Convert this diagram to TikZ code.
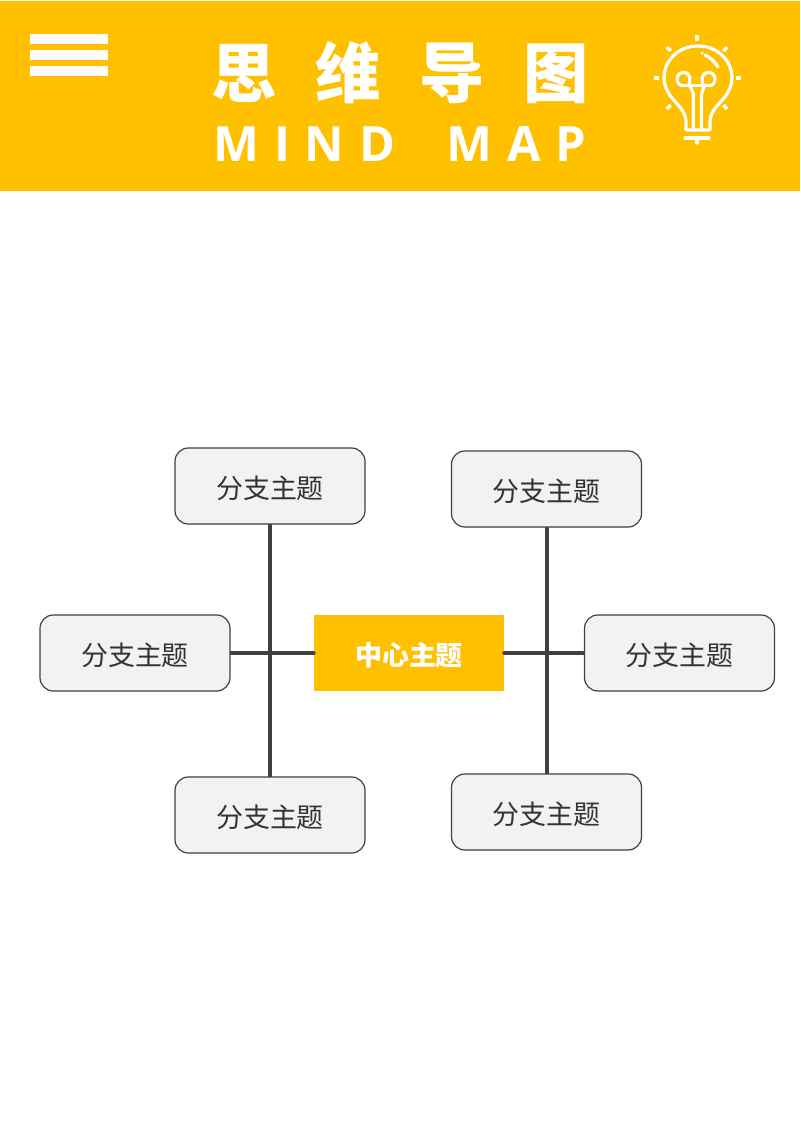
\documentclass[tikz,border=0pt]{standalone}
\usepackage{fontspec}
\newfontfamily\cjk{Noto Sans CJK SC}
\newfontfamily\latinb[LetterSpace=30,WordSpace=1.9]{Open Sans Bold}
\definecolor{amber}{HTML}{FFC000}
\definecolor{ink}{HTML}{404040}
\definecolor{boxfill}{HTML}{F2F2F2}
\pgfdeclarelayer{under}
\pgfdeclarelayer{mid}
\pgfsetlayers{under,mid,main}
\tikzset{
  branch/.style={draw=ink,line width=0.9pt,fill=boxfill,rounded corners=10pt,minimum width=142.5pt,minimum height=57pt,inner sep=0pt,text=black!80,text height=20pt,text depth=1.6pt,font=\cjk\fontsize{20.2}{24}\selectfont},
  central/.style={fill=amber,minimum width=142.5pt,minimum height=57pt,inner sep=0pt,text=white,text height=20pt,text depth=1.6pt,font=\cjk\bfseries\fontsize{20.2}{24}\selectfont},
  link/.style={draw=ink,line width=3pt,line cap=round},
  icon/.style={draw=white,line width=2.4pt,line cap=round,line join=round},
  ray/.style={draw=white,line width=2.7pt,line cap=butt},
}
\begin{document}
\begin{tikzpicture}[x=0.75pt,y=-0.75pt]
\useasboundingbox (0,0) rectangle (800,1132);
\begin{pgfonlayer}{under}
\fill[white] (0,0) rectangle (800,1132);
\fill[amber] (0,1) rectangle (800,191);
\node[central] (c) at (409,653) {中心主题};
\end{pgfonlayer}
% menu bars
\fill[white] (30,33.5) rectangle (108,43.5);
\fill[white] (30,49.5) rectangle (108,60);
\fill[white] (30,65.5) rectangle (108,76);
% titles
\node[text=white,inner sep=0pt,font=\cjk\bfseries\fontsize{49}{56}\selectfont] (title) at (400,73) {思\hspace{29pt}维\hspace{29pt}导\hspace{29pt}图};
\node[text=white,inner sep=0pt,font=\latinb\fontsize{36.5}{42}\selectfont] (sub) at (400,144) {MIND MAP};
% bulb
\begin{scope}[icon]
\draw (686,130) -- (686,122) .. controls (686,112) and (678,105) .. (672,98)
  .. controls (667,92) and (664,85) .. (664,78)
  .. controls (664,60) and (679,46) .. (698,46)
  .. controls (717,46) and (732,60) .. (732,78)
  .. controls (732,85) and (729,92) .. (724,98)
  .. controls (718,105) and (710,112) .. (710,122) -- (710,130) -- cycle;
\draw (685,138) -- (709,138);
\draw (697,138) -- (697,143);
\draw (693.3,130) -- (693.3,93.5) -- (690,85.7);
\draw (701.5,130) -- (701.5,93.5) -- (704.5,85.7);
\draw (683.3,85.7) -- (709,85.7);
\draw (683.3,85.7) .. controls (675,85.7) and (675,72.5) .. (683.3,72.5) .. controls (691,72.5) and (691,80) .. (688.5,85.7);
\draw (709,85.7) .. controls (717,85.7) and (717,72.5) .. (709,72.5) .. controls (701,72.5) and (701,80) .. (703.5,85.7);
\draw (705,55) .. controls (710,57) and (715,62) .. (718,67);
\draw (702,53) -- (702.3,53.2);
\draw[ray] (697,35) -- (697,40.5);
\draw[ray] (667,47) -- (670.5,51);
\draw[ray] (727,47) -- (723.5,51);
\draw[ray] (653.5,78) -- (658.5,78);
\draw[ray] (736,78) -- (741,78);
\draw[ray] (667,109) -- (670.5,105);
\draw[ray] (727,109) -- (723.5,105);
\end{scope}
% nodes
\node[branch] (tl) at (270,486) {分支主题};
\node[branch] (bl) at (270,815) {分支主题};
\node[branch] (ml) at (135,653) {分支主题};
\node[branch] (tr) at (546.5,489) {分支主题};
\node[branch] (br) at (546.5,812) {分支主题};
\node[branch] (mr) at (679.5,653) {分支主题};
\begin{pgfonlayer}{mid}
\draw[link] (tl.south) -- (bl.north);
\draw[link] (tr.south) -- (br.north);
\draw[link] (ml.east) -- (c.west);
\draw[link] (c.east) -- (mr.west);
\end{pgfonlayer}
\end{tikzpicture}
\end{document}
